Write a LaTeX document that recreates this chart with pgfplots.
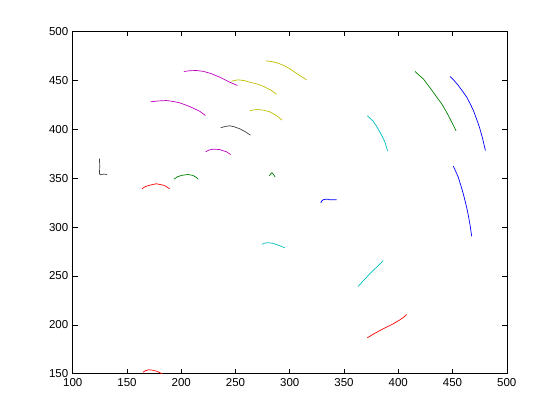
\documentclass[border=0pt]{standalone}
\usepackage{fontspec}
\setmainfont{Liberation Sans}
\usepackage{pgfplots}
\pgfplotsset{compat=1.18}
\definecolor{mb}{rgb}{0,0,1}
\definecolor{mg}{rgb}{0,0.5,0}
\definecolor{mr}{rgb}{1,0,0}
\definecolor{mc}{rgb}{0,0.75,0.75}
\definecolor{mm}{rgb}{0.75,0,0.75}
\definecolor{my}{rgb}{0.75,0.75,0}
\definecolor{mk}{rgb}{0.25,0.25,0.25}
\begin{document}
\begin{tikzpicture}
\path[use as bounding box] (-72.8pt,-46.2pt) rectangle (487.2pt,373.8pt);
\begin{axis}[
  at={(0,0)}, anchor=south west,
  scale only axis, width=434pt, height=342.3pt,
  xmin=100, xmax=500, ymin=150, ymax=500,
  xtick={100,150,...,500}, ytick={150,200,...,500},
  tick align=inside, major tick length=5pt,
  tick style={black, line width=0.6pt},
  axis line style={black, line width=0.6pt},
  tick label style={font=\fontsize{11.5}{13}\selectfont},
  /pgf/number format/assume math mode=true,
  /pgf/number format/1000 sep={},
  xticklabel style={yshift=-1pt},
  yticklabel style={xshift=-1pt},
  clip=true,
  every axis plot/.append style={line width=0.7pt, no markers},
]
% black L
\addplot[mk] coordinates {(124.6,370) (124.8,362) (124.6,354.5) (125.5,353.5) (127,353.8) (128.5,354.2) (131.7,353.8)};
% red arc
\addplot[mr] coordinates {(163.7,339.2) (167,341.5) (170.8,342.8) (177,344.3) (183.7,342.8) (186.5,341.2) (189.2,339.2)};
% green arc
\addplot[mg] coordinates {(193.2,349) (196.5,351.5) (200,352.8) (206.1,353.8) (210.8,352.8) (213.5,351) (215.7,349)};
% magenta small arc
\addplot[mm] coordinates {(222.5,377) (225.5,378.8) (229.2,379.7) (235.4,379.3) (241.6,377) (245.5,374.2)};
% black arc
\addplot[mk] coordinates {(236.3,401.5) (240,402.8) (244.6,403.6) (249,402.5) (253.9,400.5) (259,397.5) (263.7,394)};
% magenta lower
\addplot[mm] coordinates {(171.7,428.1) (179,429) (186.2,429.4) (192,428.6) (198.5,427.1) (207.7,423.3) (216.9,418.5) (222.2,414.1)};
% magenta upper
\addplot[mm] coordinates {(202.4,459.1) (208,459.9) (214,460.1) (220,459.3) (227,457.2) (235.4,453.3) (244.6,448.2) (251.7,444.8)};
% yellow middle
\addplot[my] coordinates {(246.2,449.2) (252.3,450.6) (258,449.8) (263.1,448.2) (269,446.5) (275.4,444.1) (283.1,439.7) (287.7,435.9)};
% yellow lower
\addplot[my] coordinates {(263.1,418.9) (266.5,419.8) (270.7,420.2) (276,419.5) (281.5,417.9) (287.7,414.1) (292.9,409.3)};
% yellow top
\addplot[my] coordinates {(277.9,470) (283.5,469.2) (289.2,467.6) (295,465) (300,461.9) (307.7,456) (315.4,450.6)};
% green small
\addplot[mg] coordinates {(281,352.3) (282.3,354.2) (283.5,355.6) (285,353.8) (286.5,351.2)};
% cyan arc middle
\addplot[mc] coordinates {(274.4,282.5) (277,283.6) (280,284) (284,283.5) (287.7,282.2) (291.5,280.6) (295.4,278.8)};
% blue small
\addplot[mb] coordinates {(328.6,324.8) (329.5,326.8) (330.7,327.9) (333,328.5) (335.3,328.5) (336.8,327.9) (338.5,327.9) (343.1,327.9)};
% cyan upper
\addplot[mc] coordinates {(371.4,413.8) (376.9,408.3) (380,403) (383.1,397) (385.5,392) (387.7,386.8) (390.2,377.6)};
% green long
\addplot[mg] coordinates {(415.4,459.1) (419,455.5) (423,451.6) (427.5,445) (432.3,437.9) (436,432) (440,426.1) (444,418.5) (447.7,410.7) (450.5,404.5) (453.2,398.5)};
% blue long
\addplot[mb] coordinates {(447.7,454) (451.5,449.8) (455.3,444.8) (459.2,439) (463.1,432.8) (466.3,426) (469.2,419.2) (472,411) (474.8,402.1) (477.6,391) (480.3,378.3)};
% blue lower
\addplot[mb] coordinates {(450.7,362.3) (453,356.8) (455.3,351) (457.6,342.8) (459.9,334) (462,324.8) (464,315.2) (466,303) (467.7,290.4)};
% cyan line
\addplot[mc] coordinates {(363,239.3) (366.8,244) (370.8,248.8) (374.6,253.2) (378.5,257.4) (382.3,261.5) (386.1,265.8)};
% red line
\addplot[mr] coordinates {(371.4,186.8) (377,190.5) (383.1,194.3) (389,197.6) (395.3,201.1) (401.5,205.2) (404.6,207.6) (407.7,210.6)};
% red arc bottom
\addplot[mr] coordinates {(164.6,151.6) (167,153.2) (170.1,154.1) (173.5,153.7) (177,152.7) (180,151.3) (182.1,150) (184,148.6)};
\end{axis}
\end{tikzpicture}
\end{document}
